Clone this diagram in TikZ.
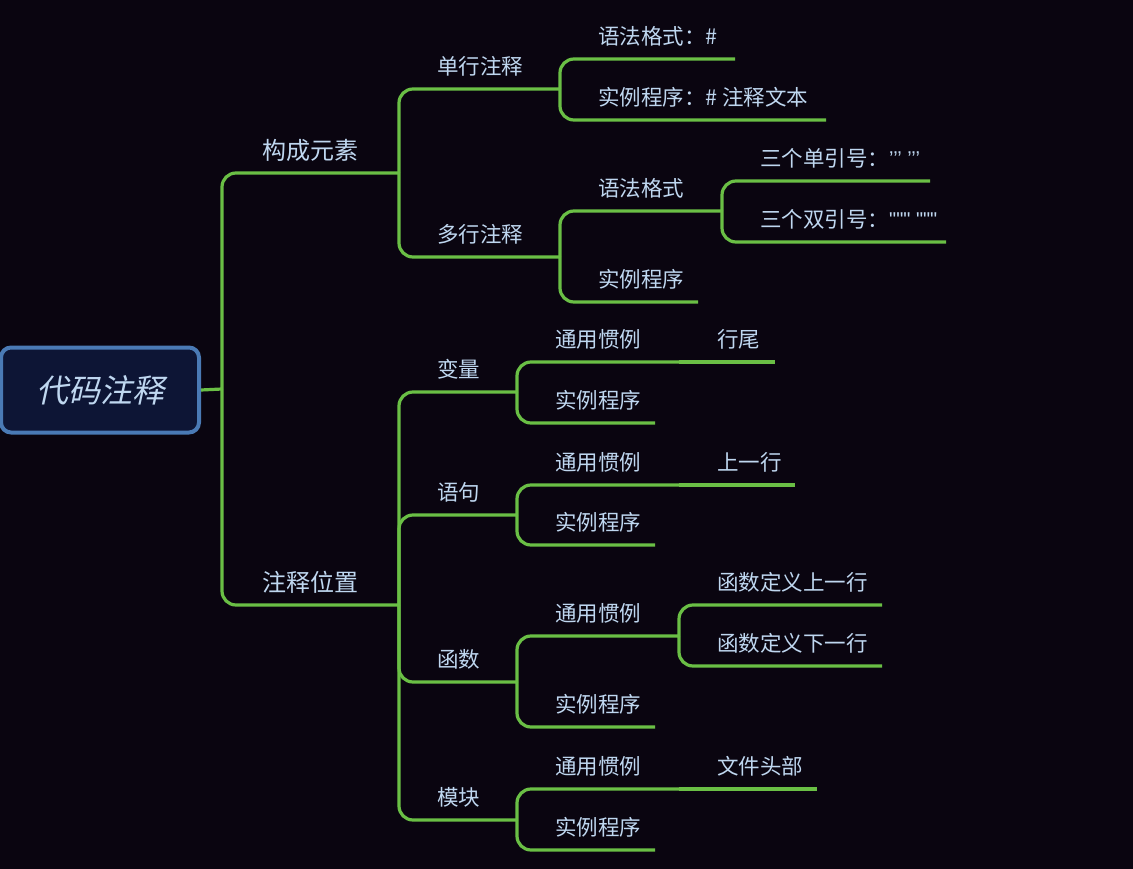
\documentclass[tikz,border=0pt]{standalone}
\usepackage{fontspec}
\setmainfont{Noto Sans CJK SC}
\newfontfamily\rootfont[FakeSlant=0.22]{Noto Sans CJK SC}
\newfontfamily\quotefont[Ligatures=TeXOff]{Liberation Sans}
\definecolor{bg}{HTML}{0A0510}
\definecolor{linkc}{HTML}{6ABF45}
\definecolor{txt}{HTML}{BFD7F0}
\definecolor{rootfill}{HTML}{0D1535}
\definecolor{rootdraw}{HTML}{4A7AB5}
\tikzset{
  link/.style={draw=linkc, line width=3.2pt, rounded corners=14pt},
  topic/.style={text=txt, font=\fontsize{21.5}{24}\selectfont, inner sep=0pt, anchor=west},
  maintopic/.style={topic, font=\fontsize{24}{28}\selectfont},
  rootbox/.style={draw=rootdraw, fill=rootfill, line width=4pt, rounded corners=10pt,
    minimum width=198pt, minimum height=85pt, text=txt, font=\rootfont\fontsize{32}{36}\selectfont},
}
\newcommand{\qt}[1]{{\quotefont\fontsize{20}{20}\selectfont\raisebox{1pt}{#1}}}
\newcommand{\mytopic}[7][topic]{%
  \coordinate (#2-e) at (#6,#5);
  \node[#1] (#2) at (#4,#5-23) {#7};
  \draw[link] (#3-e) |- (#2-e);
}
\newcommand{\mytopicstraight}[6]{%
  \coordinate (#1-e) at (#5,#4);
  \node[topic] (#1) at (#3,#4-23) {#6};
  \draw[link] (#2-e) -- (#1-e);
}
\begin{document}
\begin{tikzpicture}[x=1pt,y=-1pt]
\fill[bg] (0,0) rectangle (1133,869);
\useasboundingbox (0,0) rectangle (1133,869);
\node[rootbox] (root) at (100,390) {代码注释};
\coordinate (root-e) at (222,389);
\draw[link] (root.east) -- (root-e);
% level 1
\mytopic[maintopic]{A}{root}{262}{173}{399}{构成元素}
\mytopic[maintopic]{B}{root}{262}{605}{399}{注释位置}
% 构成元素
\mytopic{A1}{A}{437}{89}{560}{单行注释}
\mytopic{A2}{A}{437}{257}{560}{多行注释}
\mytopic{A11}{A1}{598}{59}{735}{语法格式：\#}
\mytopic{A12}{A1}{598}{120}{826}{实例程序：\# 注释文本}
\mytopic{A21}{A2}{598}{211}{722}{语法格式}
\mytopic{A22}{A2}{598}{302}{698}{实例程序}
\mytopic{A211}{A21}{760}{181}{930}{三个单引号：\qt{’’’ ’’’}}
\mytopic{A212}{A21}{760}{242}{946}{三个双引号：\qt{""" """}}
% 注释位置
\mytopic{B1}{B}{437}{392}{517}{变量}
\mytopic{B2}{B}{437}{515}{517}{语句}
\mytopic{B3}{B}{437}{682}{517}{函数}
\mytopic{B4}{B}{437}{820}{517}{模块}
\mytopic{B11}{B1}{555}{362}{679}{通用惯例}
\mytopicstraight{B111}{B11}{717}{362}{775}{行尾}
\mytopic{B12}{B1}{555}{423}{655}{实例程序}
\mytopic{B21}{B2}{555}{485}{679}{通用惯例}
\mytopicstraight{B211}{B21}{717}{485}{795}{上一行}
\mytopic{B22}{B2}{555}{545}{655}{实例程序}
\mytopic{B31}{B3}{555}{636}{679}{通用惯例}
\mytopic{B311}{B31}{717}{605}{882}{函数定义上一行}
\mytopic{B312}{B31}{717}{666}{882}{函数定义下一行}
\mytopic{B32}{B3}{555}{727}{655}{实例程序}
\mytopic{B41}{B4}{555}{789}{679}{通用惯例}
\mytopicstraight{B411}{B41}{717}{789}{817}{文件头部}
\mytopic{B42}{B4}{555}{850}{655}{实例程序}
\end{tikzpicture}
\end{document}
